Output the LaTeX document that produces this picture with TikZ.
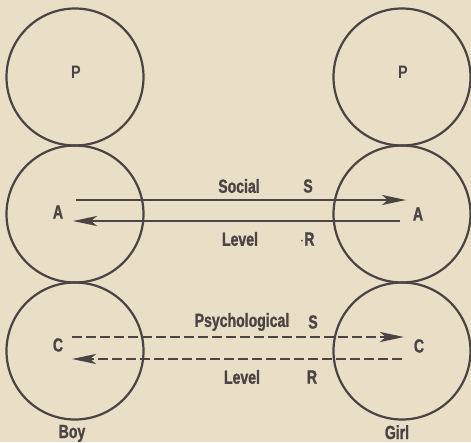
\documentclass[tikz,border=0pt]{standalone}
\usepackage{fontspec}
\usetikzlibrary{arrows.meta}
\newfontfamily\condfont[FakeStretch=0.74,FakeBold=1.2]{Liberation Sans}
\newfontfamily\plainfont[FakeStretch=0.8]{Liberation Sans}
\definecolor{paper}{HTML}{E9DEC6}
\definecolor{ink}{HTML}{4A4542}
\begin{document}
\begin{tikzpicture}[x=1pt,y=-1pt,
  ring/.style={draw=ink,line width=2.2pt,circle,minimum size=137pt,inner sep=0pt},
  lbl/.style={text=ink,font=\condfont\bfseries\fontsize{19}{19}\selectfont,inner sep=0pt},
  plbl/.style={text=ink,font=\plainfont\bfseries\fontsize{18}{18}\selectfont,inner sep=0pt},
  solidarrow/.style={draw=ink,line width=2.4pt,-{Stealth[length=24pt,width=10pt,inset=6pt]}},
  dasharrow/.style={draw=ink,line width=2.8pt,dash pattern=on 10pt off 4pt,-{Stealth[length=24pt,width=10pt,inset=6pt]}}]
\fill[paper] (0,0) rectangle (471,442);
\useasboundingbox (0,0) rectangle (471,442);
% circles
\node[ring] (bp) at (75,77) {};
\node[ring] (ba) at (75,214) {};
\node[ring] (bc) at (75,351) {};
\node[ring] (gp) at (402,77) {};
\node[ring] (ga) at (402,214) {};
\node[ring] (gc) at (402,351) {};
% letters
\node[plbl] (p1) at (76,72) {P};
\node[plbl] (p2) at (403,72) {P};
\node[lbl] (a1) at (58,212) {A};
\node[lbl] (a2) at (418,214) {A};
\node[lbl] (c1) at (58,345) {C};
\node[lbl] (c2) at (419,346) {C};
\node[lbl,anchor=base] (boy) at (72,438) {Boy};
\node[lbl,anchor=base] (girl) at (397,439) {Girl};
% labels
\node[lbl] (soc) at (239,186) {Social};
\node[lbl] (s1) at (308,186) {S};
\node[lbl] (lev1) at (240,239) {Level};
\node[lbl] (r1) at (307,239) {$\cdot$R};
\node[lbl] (psy) at (242,322) {Psychological};
\node[lbl] (s2) at (313,322) {S};
\node[lbl] (lev2) at (242,377) {Level};
\node[lbl] (r2) at (312,377) {R};
% arrow ends
\coordinate (sa) at (76,200);
\coordinate (sb) at (406,200);
\coordinate (ra) at (400,221);
\coordinate (rb) at (73,221);
\coordinate (da) at (72,337);
\coordinate (db) at (404,337);
\coordinate (ea) at (402,359);
\coordinate (eb) at (72,359);
\draw[solidarrow] (sa) -- (sb);
\draw[solidarrow] (ra) -- (rb);
\draw[dasharrow] (da) -- (db);
\draw[dasharrow] (ea) -- (eb);
\end{tikzpicture}
\end{document}
